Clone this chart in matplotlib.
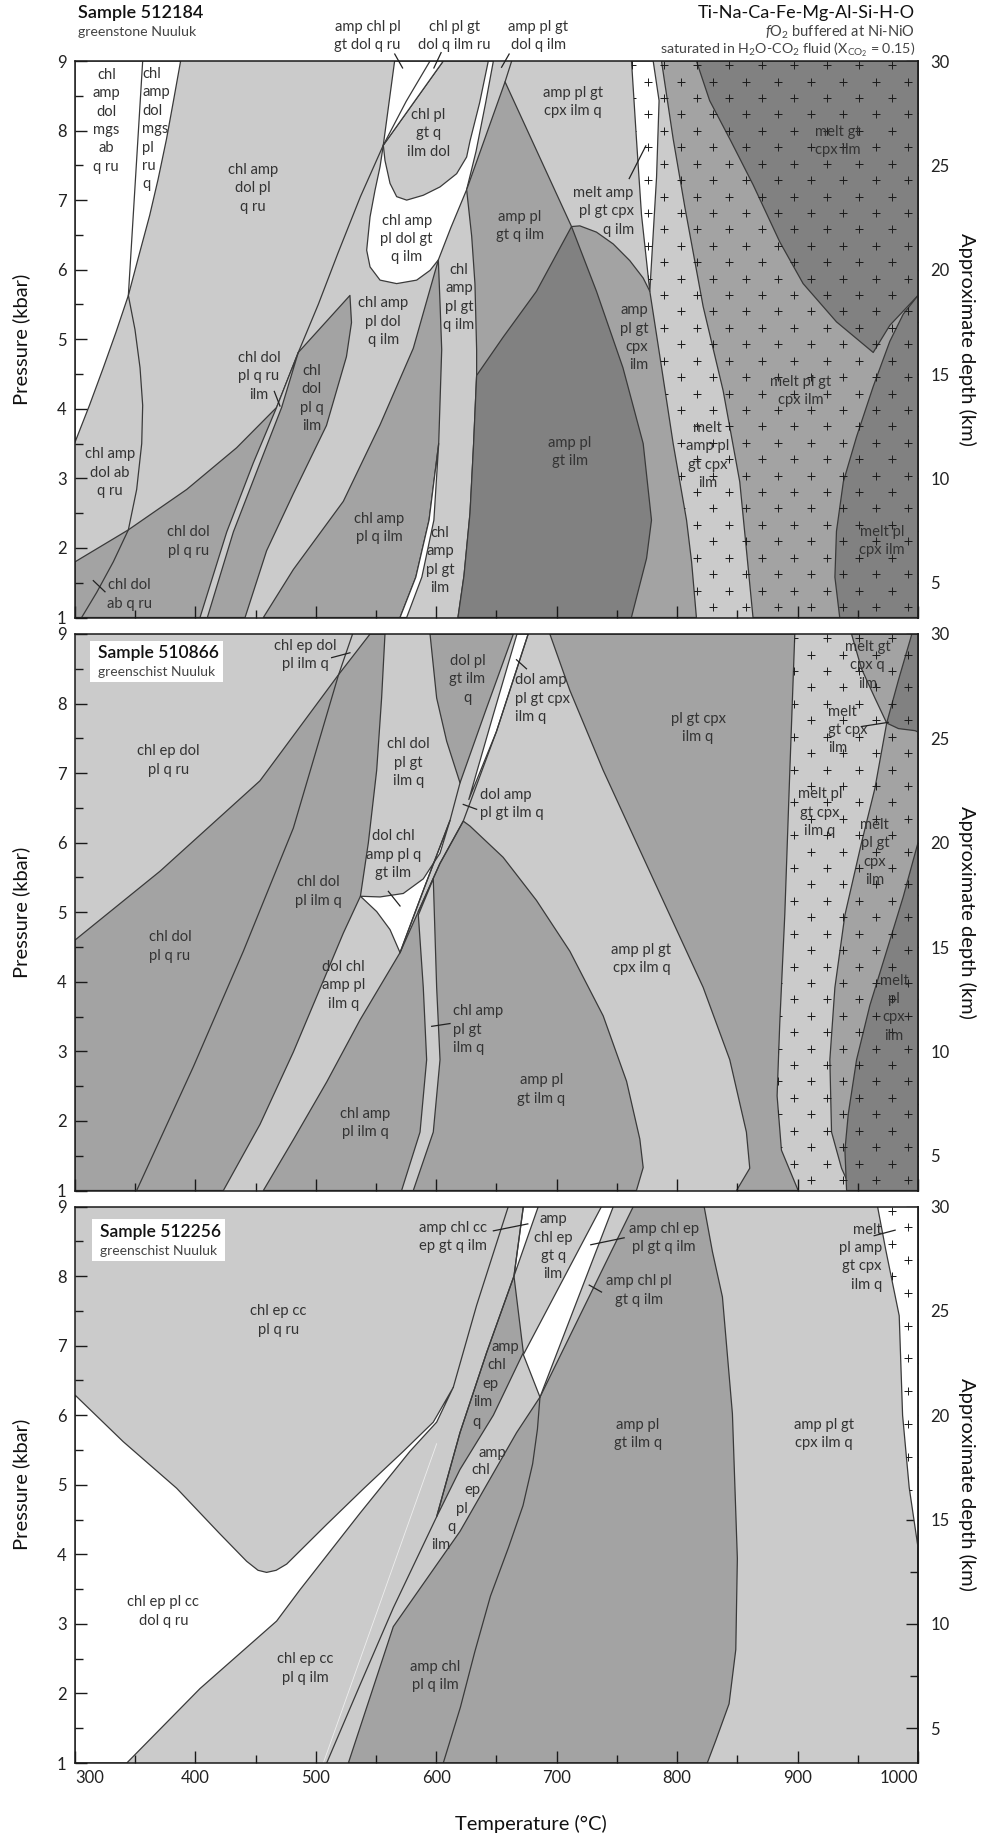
import numpy as np
import matplotlib
matplotlib.use("Agg")
import matplotlib.pyplot as plt
from matplotlib.patches import Polygon, Rectangle
from matplotlib.ticker import MultipleLocator, FixedLocator

plt.rcParams["font.family"] = ["Lato", "DejaVu Sans"]
plt.rcParams["mathtext.fontset"] = "custom"
plt.rcParams["mathtext.rm"] = "Lato"
plt.rcParams["mathtext.it"] = "Lato:italic"
plt.rcParams["mathtext.bf"] = "Lato:bold"

LIGHT, MID, DARK, WHITE = "#cbcbcb", "#a3a3a3", "#818181", "#ffffff"
EDGE = "#3a3a3a"
INK = "#333333"
LABEL_SIZE = 10.6

# plus-sign texture used for melt-bearing fields (T origin, T step, P origin, P step)
CROSS_T0, CROSS_DT, CROSS_P0, CROSS_DP = 789.3, 27.0, 8.94, 0.236

# ---------------- Sample 512184 (T degC, P kbar) ----------------
s1_mgs = [(300, 9), (300, 3.52), (312, 4.05), (323.5, 4.59), (334, 5.1), (344.3, 5.63),
          (353, 6.2), (362, 6.78), (369, 7.3), (376, 7.88), (382, 8.45), (387.7, 9)]
s1_ab_line = [(356.2, 9), (344.3, 5.63), (349.8, 5.14), (354, 4.59), (356.2, 4.05), (355.4, 3.5),
              (351.2, 2.84), (344.3, 2.26), (331.8, 1.8), (318, 1.36), (305.5, 1.0)]
s1_chl_dol = [(300, 1), (300, 1.8), (344.3, 2.26), (392.7, 2.84), (434.2, 3.44), (467.4, 4.02),
              (485.4, 4.81), (528.3, 5.63), (529.6, 5.24), (525.4, 4.75), (508.8, 3.76),
              (481.3, 2.78), (459.1, 1.96), (441.2, 1.0)]
s1_ilm_strip = [(403.8, 1.0), (426, 2.23), (448, 3.22), (467.4, 4.02), (485.4, 4.81),
                (471.6, 4.02), (453.6, 3.22), (431.5, 2.23), (409.9, 1.0)]
s1_diag = [(485.4, 4.81), (502, 5.5), (518.4, 6.24), (537, 7.05), (556, 7.79), (575, 8.42), (594.8, 9)]
s1_ru_wedge = [(565.4, 9), (556, 7.79), (605.8, 9)]
s1_dol_gt = [(556, 7.79), (553.3, 7.48), (549.1, 7.14), (545, 6.76), (542.2, 6.28), (545, 6.04),
             (553.3, 5.85), (567.1, 5.8), (583.7, 5.85), (594.8, 5.99), (601.7, 6.14),
             (612, 6.6), (625.2, 7.15), (633, 7.7), (641, 8.4), (647.4, 9), (605.8, 9)]
s1_bubble = [(556, 7.79), (605.8, 9), (643.2, 9), (636, 8.4), (628, 7.85), (625.2, 7.62),
             (616.9, 7.38), (603.1, 7.19), (589.2, 7.07), (575.4, 7.0), (567.1, 7.05),
             (561.6, 7.24), (557.4, 7.57)]
s1_amp_ilm = [(456.4, 1.0), (481.3, 1.69), (522.8, 2.67), (553.3, 3.77), (580.9, 4.87), (601.7, 6.14),
              (603.1, 5.52), (604.5, 4.85), (602, 3.5), (594, 2.4), (583, 1.58), (569.9, 1.0)]
s1_sliver = [(569.9, 1.0), (583, 1.58), (594, 2.4), (602, 3.5), (598, 2.4), (588, 1.58), (575.4, 1.0)]
s1_gt_q = [(657.1, 8.7), (625.2, 7.15), (629.4, 6.48), (632.1, 5.8), (633.5, 4.85), (633.5, 4.48),
           (631, 3.5), (628, 2.5), (623, 1.6), (618, 1.0), (816, 1.0), (812, 1.8), (807.8, 2.4),
           (796.7, 3.5), (785.6, 4.76), (777.3, 5.69), (771.8, 5.88), (760.7, 6.13), (746.9, 6.37),
           (733, 6.54), (719.2, 6.63), (712.3, 6.62)]
s1_gt_ilm = [(633.5, 4.48), (655.5, 5.03), (683.2, 5.69), (712.3, 6.62), (733, 5.69), (755, 4.59),
             (771.8, 3.5), (778.7, 2.4), (774.6, 1.85), (762, 1.0), (618, 1.0), (623, 1.6),
             (628, 2.5), (631, 3.5)]
s1_apex_line = [(657.1, 8.7), (662.6, 9)]
s1_melt_white = [(762.1, 9), (766.2, 7.88), (770.4, 6.79), (777.3, 5.69), (782.9, 7.33),
                 (785, 8.43), (780.1, 9)]
s1_melt_mid = [(787, 9), (796.7, 7.88), (806.4, 6.9), (821.6, 5.47), (838.2, 4.26), (852, 2.95),
               (857.6, 1.96), (863, 1.0), (1000, 1), (1000, 9)]
s1_melt_gt = [(816, 9), (827, 8.43), (843.7, 7.88), (863.1, 7.22), (885.2, 6.4), (904.6, 5.8),
              (932.3, 5.25), (962.8, 4.81), (976.6, 5.2), (1000, 5.63), (1000, 9)]
s1_melt_pl = [(1000, 5.63), (987.7, 5.36), (976.6, 4.97), (962.8, 4.32), (949, 3.6), (938, 2.95),
              (932.3, 2.24), (931, 1.58), (935, 1.0), (1000, 1.0)]
s1_melt_zone = [(762.1, 9), (766.2, 7.88), (770.4, 6.79), (777.3, 5.69), (785.6, 4.76), (796.7, 3.5),
                (807.8, 2.4), (812, 1.8), (816, 1.0), (1000, 1), (1000, 9)]

s1_labels = [
    ("chl\namp\ndol\nmgs\nab\nq ru", 326, 8.14, "center"),
    ("chl\namp\ndol\nmgs\npl\nru\nq", 356, 8.02, "left"),
    ("chl amp\ndol pl\nq ru", 448, 7.17, "center"),
    ("chl amp\ndol ab\nq ru", 329, 3.08, "center"),
    ("chl dol\npl q ru", 394, 2.09, "center"),
    ("chl dol\nab q ru", 345, 1.33, "center"),
    ("chl dol\npl q ru\nilm", 452.8, 4.47, "center"),
    ("chl\ndol\npl q\nilm", 496.5, 4.15, "center"),
    ("chl amp\npl dol\nq ilm", 556, 5.25, "center"),
    ("chl amp\npl q ilm", 552.7, 2.29, "center"),
    ("chl\namp\npl gt\nilm", 603, 1.82, "center"),
    ("chl\namp\npl gt\nq ilm", 618.9, 5.6, "center"),
    ("chl pl\ngt q\nilm dol", 593.4, 7.96, "center"),
    ("chl amp\npl dol gt\nq ilm", 575.4, 6.44, "center"),
    ("amp pl\ngt q ilm", 669.5, 6.63, "center"),
    ("amp pl\ngt ilm", 710.9, 3.38, "center"),
    ("amp pl gt\ncpx ilm q", 713.7, 8.41, "center"),
    ("melt amp\npl gt cpx\nq ilm", 764, 6.84, "right"),
    ("amp\npl gt\ncpx\nilm", 776, 5.02, "right"),
    ("melt\namp pl\ngt cpx\nilm", 825.2, 3.33, "center"),
    ("melt pl gt\ncpx ilm", 902.4, 4.26, "center"),
    ("melt gt\ncpx ilm", 933.1, 7.85, "center"),
    ("melt pl\ncpx ilm", 970.2, 2.1, "center"),
    ("amp chl pl\ngt dol q ru", 543, 9.36, "center"),
    ("chl pl gt\ndol q ilm ru", 614.8, 9.36, "center"),
    ("amp pl gt\ndol q ilm", 684.6, 9.36, "center"),
]
s1_leaders = [((315.2, 1.53), (324.9, 1.37)), ((465.5, 4.25), (470.2, 4.04)),
              ((760.2, 7.31), (774, 7.78)), ((565.5, 9.1), (572, 8.9)),
              ((598, 8.9), (604, 9.12)), ((654.2, 8.91), (660.5, 9.1))]

# ---------------- Sample 510866 ----------------
s2_chl_dol = [(300, 1.0), (300, 4.6), (370.6, 5.59), (453.6, 6.89), (518.6, 8.41), (545, 9), (557.4, 9),
              (554.6, 8.08), (550.5, 7.04), (543.6, 6.0), (537, 5.23), (522.8, 4.7), (509, 4.13),
              (481.3, 2.99), (453.6, 1.95), (423.2, 1.0)]
s2_ru_line = [(351.2, 1.0), (398.3, 2.78), (439.8, 4.44), (481.3, 6.21), (518.6, 8.4), (530.5, 9.0)]
s2_amp_ilm = [(456.4, 1.0), (481.3, 1.73), (509, 2.56), (536.6, 3.45), (569.9, 4.42), (585.1, 5.01),
              (603, 5.7), (622.4, 6.31), (627.9, 6.24), (655.5, 5.79), (683.2, 5.17), (710.9, 4.44),
              (738.6, 3.51), (758, 2.57), (769, 1.74), (771.8, 1.33), (766.2, 1.0)]
s2_gt_strip = [(571.2, 1.0), (586.5, 1.84), (592, 2.88), (589.2, 3.92), (585.1, 4.96),
               (597.5, 5.48), (600.3, 3.92), (603.1, 2.88), (597.5, 1.84), (580.9, 1.0)]
s2_dol_white = [(537, 5.23), (553.3, 5.22), (572.6, 5.27), (589.2, 5.48), (603.1, 5.85), (611.4, 6.32),
                (590, 5.35), (569.9, 4.42), (561.6, 4.75), (550.5, 5.01)]
s2_dol_pl = [(594.8, 9), (600.3, 8.08), (608.6, 7.46), (619.7, 6.86), (641, 7.9), (664, 9)]
s2_x1_line = [(569.9, 4.42), (590, 5.35), (611.4, 6.32), (619.7, 6.86)]
s2_x2_line = [(585.1, 5.01), (603, 5.7), (622.4, 6.31), (650, 7.6), (676.3, 9)]
s2_cpx_white = [(627, 6.62), (647, 7.82), (667, 9), (676.3, 9), (650, 7.6)]
s2_pl_gt_cpx = [(694.3, 9), (710.9, 8.19), (738.6, 7.04), (766.2, 6.0), (793.9, 4.96), (821.6, 3.92),
                (843.7, 2.88), (857.5, 1.84), (860.3, 1.32), (849.3, 1.0), (900.5, 1.0), (886.6, 1.58),
                (883, 2.36), (885.2, 3.4), (889.4, 4.97), (893.6, 7.05), (897.7, 9)]
s2_melt_mid = [(944.8, 9), (953.1, 8.5), (964.2, 8.08), (974, 7.72), (964.2, 6.78), (953.1, 6.0),
               (939.3, 4.96), (931, 3.92), (926.8, 2.88), (928.2, 1.84), (936.5, 1.32), (944.8, 1.0),
               (1000, 1), (1000, 9)]
s2_melt_q = [(994.9, 9), (983.8, 8.34), (974, 7.72), (983.8, 7.64), (997.7, 7.61), (1000, 7.59), (1000, 9)]
s2_melt_cpx = [(1000, 6.0), (987.7, 5.22), (973.9, 4.44), (960, 3.66), (949, 2.88), (942.1, 2.1),
               (939.3, 1.58), (940.7, 1.0), (1000, 1.0)]
s2_melt_zone = [(897.7, 9), (893.6, 7.05), (889.4, 4.97), (885.2, 3.4), (883, 2.36), (886.6, 1.58),
                (900.5, 1.0), (1000, 1), (1000, 9)]

s2_labels = [
    ("chl ep dol\npl q ru", 377.5, 7.18, "center"),
    ("chl dol\npl q ru", 378.9, 4.51, "center"),
    ("chl ep dol\npl ilm q", 491, 8.7, "center"),
    ("chl dol\npl ilm q", 502, 5.3, "center"),
    ("dol chl\namp pl\nilm q", 522.8, 3.95, "center"),
    ("chl amp\npl ilm q", 540.8, 1.97, "center"),
    ("chl dol\npl gt\nilm q", 576.8, 7.15, "center"),
    ("dol chl\namp pl q\ngt ilm", 564.3, 5.83, "center"),
    ("dol pl\ngt ilm\nq", 625.8, 8.35, "center"),
    ("chl amp\npl gt\nilm q", 614, 3.31, "left"),
    ("dol amp\npl gt ilm q", 636.2, 6.56, "left"),
    ("dol amp\npl gt cpx\nilm q", 665, 8.07, "left"),
    ("pl gt cpx\nilm q", 817.4, 7.65, "center"),
    ("amp pl gt\ncpx ilm q", 770.4, 4.33, "center"),
    ("amp pl\ngt ilm q", 687.4, 2.45, "center"),
    ("melt pl\ngt cpx\nilm q", 918.7, 6.43, "center"),
    ("melt\ngt cpx\nilm", 925.4, 7.62, "left"),
    ("melt gt\ncpx q\nilm", 958.3, 8.55, "center"),
    ("melt\npl gt\ncpx\nilm", 964.2, 5.86, "center"),
    ("melt\npl\ncpx\nilm", 980.2, 3.62, "center"),
]
s2_leaders = [((513.1, 8.66), (528.3, 8.73)), ((560.2, 5.3), (569.9, 5.09)),
              ((596.2, 3.36), (611.4, 3.4)), ((622.4, 6.55), (633.5, 6.48)),
              ((666.6, 8.63), (674.9, 8.5)), ((953.1, 7.67), (975.3, 7.73))]

# ---------------- Sample 512256 ----------------
s3_dol_white = [(300, 6.29), (340, 5.62), (384.4, 4.95), (420, 4.3), (442.5, 3.9), (452, 3.77),
                (459.1, 3.74), (467, 3.77), (475.8, 3.86), (509, 4.43), (540, 4.95), (572.6, 5.48),
                (597.5, 5.9), (614.1, 6.4), (600.3, 5.9), (578.1, 5.48), (536.6, 4.59), (486.8, 3.49),
                (467.4, 3.04), (403.8, 2.07), (343, 1.0), (300, 1.0)]
s3_amp_ilm = [(527, 1.0), (564.3, 2.96), (619.7, 4.33), (666.7, 5.75), (686.1, 6.26), (763.6, 9),
              (822.4, 9), (829.3, 8.35), (837.6, 7.7), (845.9, 6.02), (850, 3.94), (848.7, 2.63),
              (843.1, 1.85), (832, 1.32), (825, 1.0)]
s3_ep_wedge = [(664.5, 8.0), (672.3, 6.9), (647.4, 6.0), (619.7, 5.22), (600.3, 4.54), (619.7, 5.75),
               (641.8, 6.9)]
s3_gt_white = [(737.2, 9), (747, 9), (686.1, 6.26), (672.3, 6.87)]
s3_cc_white = [(672.3, 9), (684.7, 9), (664.5, 8.0)]
s3_melt_white = [(966.4, 9), (973.3, 8.37), (984.4, 7.43), (987.2, 6.0), (992.7, 4.96), (1000, 4.1),
                 (1000, 9)]
s3_ep_line = [(509, 1.0), (536.6, 2.12), (564.3, 3.23), (600.3, 4.54), (619.7, 5.75), (641.8, 6.9),
              (664.5, 8.0), (672.3, 9)]
s3_ru_line = [(614.1, 6.4), (633.5, 7.58), (659.8, 9)]
s3_chl_line = [(605.8, 1.0), (620, 1.8), (632, 2.6), (645, 3.4), (660, 4.1), (672, 4.7), (680, 5.3),
               (684, 5.8), (686.1, 6.26)]
s3_faint_line = [(506.2, 1.0), (600.3, 5.59)]

s3_labels = [
    ("chl ep cc\npl q ru", 468.8, 7.36, "center"),
    ("chl ep pl cc\ndol q ru", 373.3, 3.18, "center"),
    ("chl ep cc\npl q ilm", 491, 2.36, "center"),
    ("amp chl\npl q ilm", 598.9, 2.25, "center"),
    ("amp", 657, 6.98, "center"), ("chl", 650.1, 6.72, "center"), ("ep", 644.6, 6.45, "center"),
    ("ilm", 639, 6.19, "center"), ("q", 633, 5.9, "center"),
    ("amp", 646.8, 5.46, "center"), ("chl", 636.8, 5.21, "center"), ("ep", 630.2, 4.93, "center"),
    ("pl", 621.1, 4.65, "center"), ("q", 612.8, 4.39, "center"), ("ilm", 603.9, 4.13, "center"),
    ("amp chl cc\nep gt q ilm", 614, 8.56, "center"),
    ("amp\nchl ep\ngt q\nilm", 697, 8.42, "center"),
    ("amp chl ep\npl gt q ilm", 789.2, 8.55, "center"),
    ("amp chl pl\ngt q ilm", 768.5, 7.79, "center"),
    ("amp pl\ngt ilm q", 767.6, 5.73, "center"),
    ("amp pl gt\ncpx ilm q", 922, 5.73, "center"),
    ("melt\npl amp\ngt cpx\nilm q", 970, 8.27, "right"),
]
s3_leaders = [((647.4, 8.65), (676, 8.75)), ((728.3, 8.45), (756, 8.55)),
              ((727, 7.87), (737.2, 7.77)), ((963.6, 8.58), (981, 8.66))]


def fill(ax, pts, color, z=1):
    ax.add_patch(Polygon(pts, closed=True, facecolor=color, edgecolor=EDGE, lw=0.9,
                         joinstyle="round", zorder=z))


def line(ax, pts, color=EDGE, lw=0.9, z=3):
    t, p = zip(*pts)
    ax.plot(t, p, color=color, lw=lw, zorder=z, solid_joinstyle="round")


def crosses(ax, zone):
    rows = np.arange(CROSS_P0, 0.95, -CROSS_DP)
    ts, ps = [], []
    for i, p in enumerate(rows):
        start = CROSS_T0 + (CROSS_DT / 2 if i % 2 else 0)
        t = start + CROSS_DT * np.arange(-30, 30)
        t = t[(t > 300) & (t < 1000)]
        ts.append(t)
        ps.append(np.full_like(t, p))
    clip = Polygon(zone, closed=True, transform=ax.transData)
    sc = ax.scatter(np.concatenate(ts), np.concatenate(ps), marker="+", s=32, c="#1c1c1c",
                    linewidths=0.7, zorder=2.5)
    sc.set_clip_path(clip)


def labels(ax, items, leaders):
    for s, t, p, ha in items:
        ax.text(t, p, s, ha=ha, va="center", multialignment=ha, fontsize=LABEL_SIZE, color=INK,
                linespacing=1.4, zorder=6)
    for a, b in leaders:
        ax.plot([a[0], b[0]], [a[1], b[1]], color="#222222", lw=0.9, zorder=6, clip_on=False)


def setup(ax, show_x):
    ax.set_xlim(300, 1000)
    ax.set_ylim(1, 9)
    ax.xaxis.set_major_locator(FixedLocator(np.arange(300, 1001, 100)))
    ax.xaxis.set_minor_locator(MultipleLocator(50))
    ax.yaxis.set_major_locator(MultipleLocator(1))
    ax.yaxis.set_minor_locator(MultipleLocator(0.5))
    ax.tick_params(which="both", direction="in", top=False, right=False, colors="#1a1a1a",
                   labelcolor="#222222", width=1.0)
    ax.tick_params(which="major", length=8.5, labelsize=12)
    ax.tick_params(which="minor", length=6)
    ax.tick_params(axis="y", pad=6)
    ax.tick_params(axis="x", pad=5, labelbottom=show_x)
    for sp in ax.spines.values():
        sp.set_linewidth(1.1)
        sp.set_color("#1a1a1a")
        sp.set_zorder(7)
    sec = ax.secondary_yaxis("right", functions=(lambda p: p / 0.3, lambda d: d * 0.3))
    sec.yaxis.set_major_locator(FixedLocator([5, 10, 15, 20, 25, 30]))
    sec.yaxis.set_minor_locator(FixedLocator([2.5, 7.5, 12.5, 17.5, 22.5, 27.5]))
    sec.tick_params(which="both", direction="in", colors="#1a1a1a", labelcolor="#222222", width=1.0)
    sec.tick_params(which="major", length=8.5, pad=9, labelsize=12)
    sec.tick_params(which="minor", length=6)
    sec.spines["right"].set_linewidth(1.1)
    if show_x:
        ticks = ax.xaxis.get_major_ticks()
        ticks[0].label1.set_horizontalalignment("left")
        ticks[-1].label1.set_horizontalalignment("right")


fig = plt.figure(figsize=(9.83, 18.38), dpi=100)
W, H = 983, 1838
panel_tops = [61, 634, 1206.5]
panel_h = 556.5
axes = [fig.add_axes([75 / W, 1 - (t + panel_h) / H, 843 / W, panel_h / H]) for t in panel_tops]
for ax in axes:
    ax.set_facecolor(LIGHT)

# panel 1
ax = axes[0]
fill(ax, s1_mgs, WHITE)
fill(ax, s1_chl_dol, MID)
fill(ax, s1_ilm_strip, LIGHT)
fill(ax, s1_dol_gt, WHITE)
fill(ax, s1_bubble, LIGHT)
fill(ax, s1_ru_wedge, WHITE)
fill(ax, s1_amp_ilm, MID)
fill(ax, s1_sliver, WHITE)
fill(ax, s1_gt_q, MID)
fill(ax, s1_gt_ilm, DARK)
fill(ax, s1_melt_white, WHITE)
fill(ax, s1_melt_mid, MID)
fill(ax, s1_melt_gt, DARK)
fill(ax, s1_melt_pl, DARK)
line(ax, s1_ab_line)
line(ax, s1_diag)
line(ax, s1_apex_line)
crosses(ax, s1_melt_zone)
labels(ax, s1_labels, s1_leaders)

# panel 2
ax = axes[1]
fill(ax, s2_chl_dol, MID)
fill(ax, s2_amp_ilm, MID)
fill(ax, s2_gt_strip, LIGHT)
fill(ax, s2_dol_white, WHITE)
fill(ax, s2_dol_pl, MID)
fill(ax, s2_cpx_white, WHITE)
fill(ax, s2_pl_gt_cpx, MID)
fill(ax, s2_melt_mid, MID)
fill(ax, s2_melt_q, DARK)
fill(ax, s2_melt_cpx, DARK)
line(ax, s2_ru_line)
line(ax, s2_x1_line)
line(ax, s2_x2_line)
crosses(ax, s2_melt_zone)
labels(ax, s2_labels, s2_leaders)

# panel 3
ax = axes[2]
fill(ax, s3_dol_white, WHITE)
fill(ax, s3_amp_ilm, MID)
fill(ax, s3_ep_wedge, MID)
fill(ax, s3_gt_white, WHITE)
fill(ax, s3_cc_white, WHITE)
fill(ax, s3_melt_white, WHITE)
line(ax, s3_ep_line)
line(ax, s3_ru_line)
line(ax, s3_chl_line)
line(ax, s3_faint_line, color="#eeeeee", lw=0.6, z=2)
crosses(ax, s3_melt_white)
labels(ax, s3_labels, s3_leaders)

for i, ax in enumerate(axes):
    setup(ax, show_x=(i == 2))

# sample boxes inside the lower two panels
for ax, (x0, y0, x1, y1), name, ty in [
        (axes[1], (0.0178, 0.913, 0.176, 0.987), "Sample 510866", (0.965, 0.932)),
        (axes[2], (0.0198, 0.902, 0.178, 0.977), "Sample 512256", (0.954, 0.920))]:
    ax.add_patch(Rectangle((x0, y0), x1 - x0, y1 - y0, transform=ax.transAxes,
                           facecolor="white", edgecolor="none", zorder=8))
    ax.text(x0 + 0.0095, ty[0], name, transform=ax.transAxes, fontsize=12.5, fontweight="semibold",
            color="#111111", va="center", zorder=9)
    ax.text(x0 + 0.0095, ty[1], "greenschist Nuuluk", transform=ax.transAxes, fontsize=10,
            color="#444444", va="center", zorder=9)

# header
fig.text(78 / W, 1 - 13 / H, "Sample 512184", fontsize=13, fontweight="semibold", color="#111111",
         va="center")
fig.text(78 / W, 1 - 32 / H, "greenstone Nuuluk", fontsize=10.2, color="#444444", va="center")
fig.text(915 / W, 1 - 13 / H, "Ti-Na-Ca-Fe-Mg-Al-Si-H-O", fontsize=13, color="#111111",
         ha="right", va="center")
fig.text(915 / W, 1 - 32 / H, r"$f$O$_2$ buffered at Ni-NiO", fontsize=10.5, color="#444444",
         ha="right", va="center")
fig.text(915 / W, 1 - 50 / H, r"saturated in H$_2$O-CO$_2$ fluid (X$_{\mathrm{CO}_2}$ = 0.15)",
         fontsize=10.3, color="#444444", ha="right", va="center")

# axis titles
for t in panel_tops:
    yc = 1 - (t + panel_h / 2) / H
    fig.text(21 / W, yc, "Pressure (kbar)", rotation=90, fontsize=14.5, ha="center", va="center",
             color="#111111")
    fig.text(967 / W, yc, "Approximate depth (km)", rotation=270, fontsize=14.5, ha="center",
             va="center", color="#111111")
fig.text(531 / W, 1 - 1824 / H, "Temperature (\u00b0C)", fontsize=14.5, ha="center",
         va="center", color="#111111")

fig.savefig("out.png", dpi=100, facecolor="white")
